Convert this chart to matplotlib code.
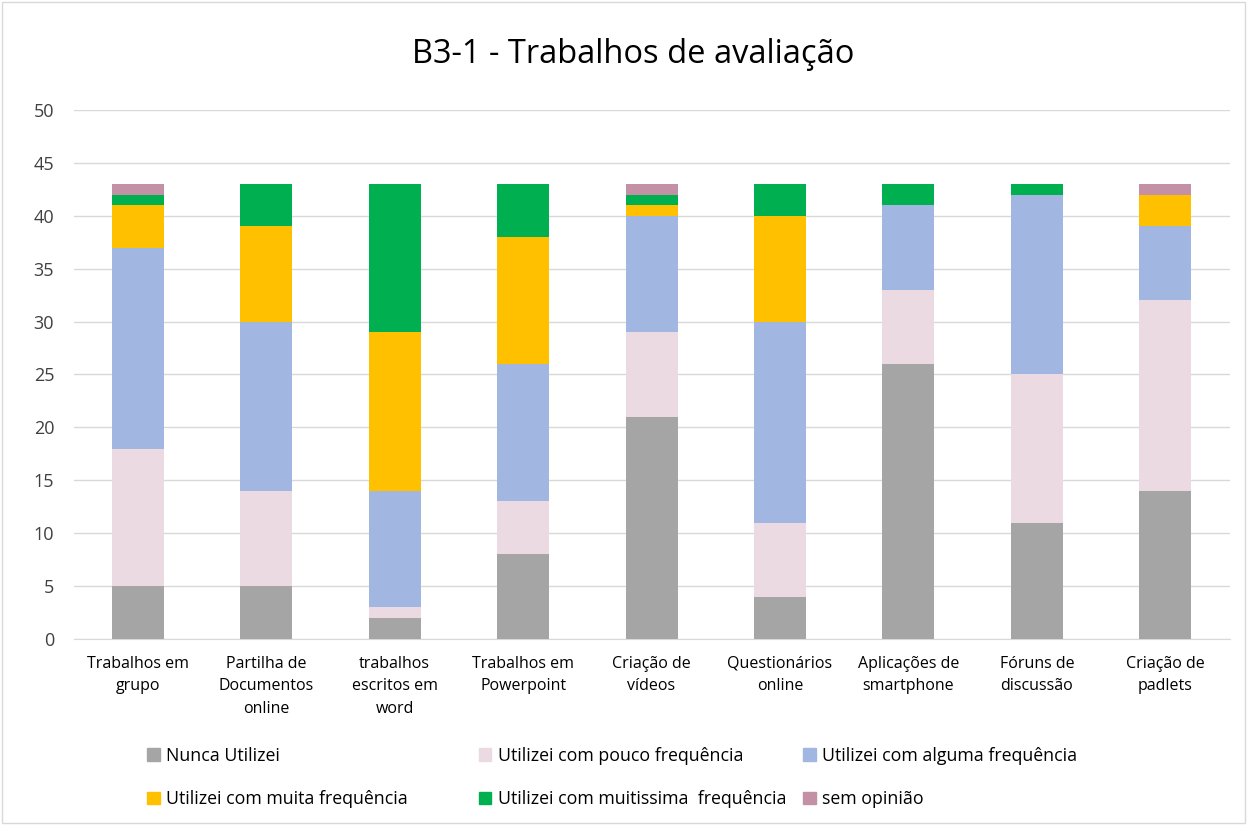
import matplotlib.pyplot as plt
import numpy as np
from matplotlib.patches import Rectangle, Patch

plt.rcParams['font.family'] = ['Open Sans', 'DejaVu Sans']

categories = ["Trabalhos em\ngrupo", "Partilha de\nDocumentos\nonline", "trabalhos\nescritos em\nword",
              "Trabalhos em\nPowerpoint", "Criação de\nvídeos", "Questionários\nonline",
              "Aplicações de\nsmartphone", "Fóruns de\ndiscussão", "Criação de\npadlets"]
series = ["Nunca Utilizei", "Utilizei com pouco frequência", "Utilizei com alguma frequência",
          "Utilizei com muita frequência", "Utilizei com muitissima  frequência", "sem opinião"]
nunca = [5, 5, 2, 8, 21, 4, 26, 11, 14]
pouco = [13, 9, 1, 5, 8, 7, 7, 14, 18]
alguma = [19, 16, 11, 13, 11, 19, 8, 17, 7]
muita = [4, 9, 15, 12, 1, 10, 0, 0, 3]
muitissima = [1, 4, 14, 5, 1, 3, 2, 1, 0]
sem_opiniao = [1, 0, 0, 0, 1, 0, 0, 0, 1]
colors = ["#A5A5A5", "#EBDAE1", "#A1B7E1", "#FFC000", "#00B050", "#C490A6"]

fig = plt.figure(figsize=(12.47, 8.25), dpi=100)
fig.patches.append(Rectangle((0.002, 0.002), 0.996, 0.996, transform=fig.transFigure,
                             fill=False, edgecolor="#D9D9D9", linewidth=1))
ax = fig.add_axes([0.059, 0.2255, 0.927, 0.6412])

x = np.arange(len(categories))
bottom = np.zeros(len(categories))
handles = []
for vals, name, c in zip([nunca, pouco, alguma, muita, muitissima, sem_opiniao], series, colors):
    ax.bar(x, vals, 0.405, bottom=bottom, color=c, zorder=3)
    bottom += np.array(vals)
    handles.append(Patch(color=c, label=name))

ax.set_ylim(0, 50)
ax.set_xlim(-0.5, len(categories) - 0.5)
ax.set_yticks(range(0, 51, 5))
ax.grid(axis="y", color="#D9D9D9", linewidth=1, zorder=0)
for s in ["top", "right", "left"]:
    ax.spines[s].set_visible(False)
ax.spines["bottom"].set_color("#D9D9D9")
ax.tick_params(length=0)
ax.set_xticks(x)
ax.set_xticklabels(categories, fontsize=11.5, va="top", linespacing=1.55)
ax.tick_params(axis="x", pad=12)
ax.tick_params(axis="y", labelsize=13, pad=14, labelcolor="#404040")
fig.text(0.508, 0.934, "B3-1 - Trabalhos de avaliação", ha="center", va="center", fontsize=23.5)

# three legend columns, two rows each, placed like the original
col_x = [0.118, 0.384, 0.644]
for i, cx in enumerate(col_x):
    fig.legend(handles=[handles[i], handles[i + 3]], loc="upper left",
               bbox_to_anchor=(cx, 0.095), frameon=False, fontsize=12.8,
               handlelength=0.7, handleheight=0.7, handletextpad=0.35,
               labelspacing=1.45, borderaxespad=0, borderpad=0)

fig.savefig("out.png", dpi=100)
